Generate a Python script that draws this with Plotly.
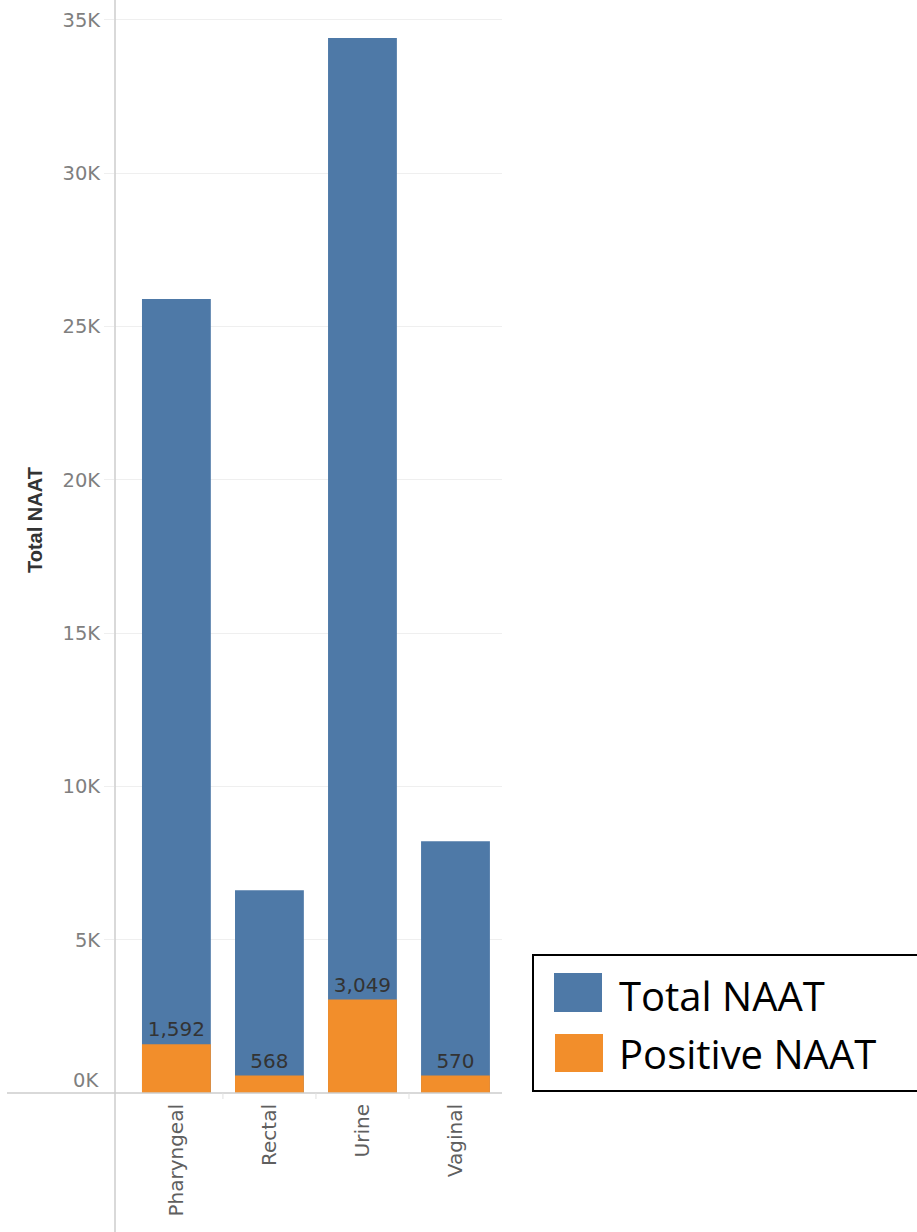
import plotly.graph_objects as go

categories = ["Pharyngeal", "Rectal", "Urine", "Vaginal"]
total_naat = [25900, 6610, 34410, 8210]
positive_naat = [1592, 568, 3049, 570]
y_tick_values = [0, 5000, 10000, 15000, 20000, 25000, 30000, 35000]
y_tick_labels = ["0K", "5K", "10K", "15K", "20K", "25K", "30K", "35K"]

BLUE = "#4e79a7"
ORANGE = "#f28e2b"

W, H = 917, 1232
L, R, T, B = 115, 502, 0, 1093  # plot area in pixels


def px(p):
    return (p - L) / (R - L)


def py(p):
    return (B - p) / (B - T)


TICK_FONT = dict(family="DejaVu Sans", size=19.5, color="#7f7f7f")

fig = go.Figure()
fig.add_trace(go.Bar(x=categories, y=total_naat, name="Total NAAT",
                     marker=dict(color=BLUE, line=dict(width=0)), width=0.74))
fig.add_trace(go.Bar(x=categories, y=positive_naat, name="Positive NAAT",
                     marker=dict(color=ORANGE, line=dict(width=0)), width=0.74,
                     texttemplate="%{y:,}", textposition="outside",
                     textfont=dict(family="DejaVu Sans", size=20, color="#333333"),
                     cliponaxis=False))

shapes = []
# y axis line (extends below plot)
shapes.append(dict(type="line", xref="paper", yref="paper", x0=0, x1=0,
                   y0=1, y1=py(1232), line=dict(color="#cccccc", width=1.5)))
# x baseline
shapes.append(dict(type="line", xref="paper", yref="paper", x0=px(7), x1=1,
                   y0=0, y1=0, line=dict(color="#cccccc", width=1.5)))
# category separators
for i in range(len(categories) - 1):
    shapes.append(dict(type="line", xref="x", yref="paper", x0=i + 0.5, x1=i + 0.5,
                       y0=0, y1=py(1099), line=dict(color="#e0e0e0", width=1)))
# legend box
shapes.append(dict(type="rect", xref="paper", yref="paper", x0=px(533), x1=px(920),
                   y0=py(955), y1=py(1091), line=dict(color="black", width=2),
                   fillcolor="white"))
shapes.append(dict(type="rect", xref="paper", yref="paper", x0=px(554), x1=px(602),
                   y0=py(973), y1=py(1012), line=dict(width=0), fillcolor=BLUE))
shapes.append(dict(type="rect", xref="paper", yref="paper", x0=px(555), x1=px(603),
                   y0=py(1034), y1=py(1072), line=dict(width=0), fillcolor=ORANGE))

annotations = [
    dict(text="<b>Total NAAT</b>", textangle=-90, xref="paper", yref="paper",
         x=px(35), y=py(520), showarrow=False, xanchor="center", yanchor="middle",
         font=dict(family="Liberation Sans", size=20, color="#333333")),
    dict(text="Total NAAT", xref="paper", yref="paper", x=px(617), y=py(995),
         showarrow=False, xanchor="left", yanchor="middle",
         font=dict(family="Open Sans", size=40, color="black")),
    dict(text="Positive NAAT", xref="paper", yref="paper", x=px(617), y=py(1053),
         showarrow=False, xanchor="left", yanchor="middle",
         font=dict(family="Open Sans", size=40, color="black")),
    # zero tick label sits slightly above the baseline
    dict(text=y_tick_labels[0], xref="paper", yref="y", x=px(101), y=y_tick_values[0],
         yshift=13, showarrow=False, xanchor="right", yanchor="middle",
         font=TICK_FONT),
]

fig.update_layout(
    width=W, height=H,
    margin=dict(l=L, r=W - R, t=T, b=H - B, pad=0),
    paper_bgcolor="white", plot_bgcolor="white",
    barmode="overlay", showlegend=False,
    shapes=shapes, annotations=annotations,
    xaxis=dict(range=[-0.66, 3.5], tickangle=-90, showline=False, showgrid=False,
               zeroline=False, ticks="", ticklabelstandoff=6,
               tickfont=dict(family="DejaVu Sans", size=20, color="#5f5f5f")),
    yaxis=dict(range=[0, 35650], tickvals=y_tick_values[1:], ticktext=y_tick_labels[1:],
               showgrid=True, gridcolor="#efefef", gridwidth=1, zeroline=False,
               showline=False, ticks="outside", ticklen=10, tickcolor="#efefef",
               tickfont=TICK_FONT),
)

fig.write_html("out.html", config={"displayModeBar": False},
               post_script="document.body.style.margin='0';")
